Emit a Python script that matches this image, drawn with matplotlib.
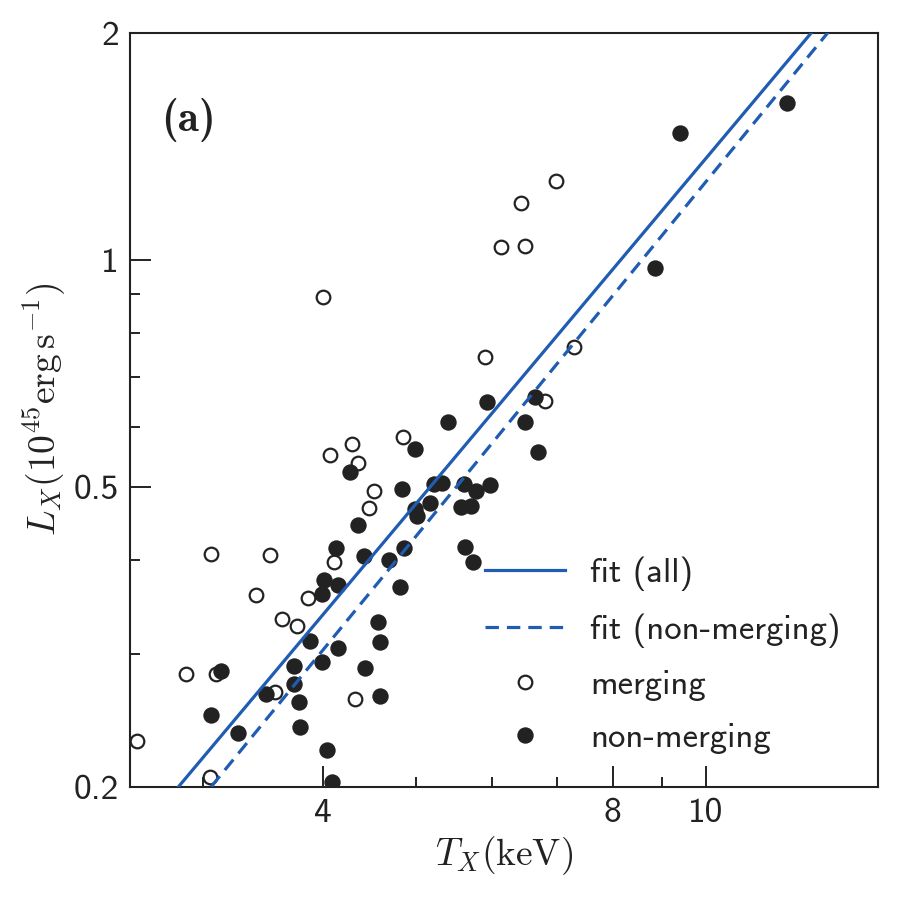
import numpy as np
import matplotlib
matplotlib.use("Agg")
import matplotlib.pyplot as plt

plt.rcParams['font.family'] = ['cmss10', 'DejaVu Sans']
plt.rcParams['mathtext.fontset'] = 'cm'
plt.rcParams['axes.unicode_minus'] = False

# merging clusters (open circles)
T_merg = np.array([2.56, 2.88, 3.06, 3.10, 3.05, 3.41, 3.52, 3.57, 3.63, 3.76,
                   3.86, 4.32, 4.00, 4.07, 4.29, 4.35, 4.52, 4.47, 4.11, 4.85,
                   5.90, 6.13, 6.49, 6.42, 6.98, 7.29, 6.80])
L_merg = np.array([0.230, 0.282, 0.407, 0.282, 0.206, 0.359, 0.406, 0.267, 0.334, 0.327,
                   0.356, 0.262, 0.893, 0.551, 0.570, 0.538, 0.494, 0.469, 0.398, 0.582,
                   0.744, 1.040, 1.044, 1.190, 1.273, 0.767, 0.650])

# non-merging clusters (filled circles)
T_non = np.array([3.13, 3.06, 3.26, 3.49, 3.73, 3.73, 3.78, 3.79, 3.88, 3.99,
                  3.99, 4.01, 4.15, 4.15, 4.04, 4.09, 4.42, 4.56, 4.59, 4.58,
                  4.81, 4.86, 4.69, 4.41, 4.13, 4.35, 4.27, 4.83, 4.99, 4.98,
                  5.01, 5.17, 5.22, 5.32, 5.40, 5.61, 5.77, 5.96, 5.56, 5.70,
                  5.62, 5.73, 5.93, 6.49, 6.65, 6.70, 8.85, 9.40, 12.14])
L_non = np.array([0.285, 0.249, 0.236, 0.266, 0.289, 0.274, 0.259, 0.240, 0.312, 0.293,
                  0.361, 0.376, 0.371, 0.306, 0.224, 0.203, 0.288, 0.331, 0.311, 0.264,
                  0.368, 0.415, 0.400, 0.405, 0.415, 0.445, 0.523, 0.497, 0.562, 0.467,
                  0.458, 0.476, 0.505, 0.506, 0.610, 0.505, 0.494, 0.503, 0.470, 0.472,
                  0.416, 0.398, 0.648, 0.610, 0.658, 0.556, 0.976, 1.474, 1.615])

# power-law fits: L = A * (T / 6 keV)^B
T_pivot = 6.0
A_all, B_all = 0.627, 1.52
A_non, B_non = 0.572, 1.56

x_ticks = [4, 8, 10]
x_ticklabels = ['4', '8', '10']
x_minor = [3, 5, 6, 7, 9]
y_ticks = [0.2, 0.5, 1, 2]
y_ticklabels = ['0.2', '0.5', '1', '2']
y_minor = [0.3, 0.4, 0.6, 0.7, 0.8, 0.9]

blue = '#1f5cb2'
dark = '#222222'

fig = plt.figure(figsize=(9, 9), dpi=100)
ax = fig.add_axes([0.1444, 0.1256, 0.8311, 0.8378])
ax.set_xscale('log')
ax.set_yscale('log')
ax.set_xlim(2.52, 15.1)
ax.set_ylim(0.2, 2)

ax.plot(T_merg, L_merg, 'o', ms=9.8, mfc='white', mec=dark, mew=1.6,
        ls='none', label='merging', zorder=2)
ax.plot(T_non, L_non, 'o', ms=11.8, mfc=dark, mec=dark, mew=0,
        ls='none', label='non-merging', zorder=2)

tt = np.geomspace(2.52, 15.1, 200)
l1, = ax.plot(tt, A_all * (tt / T_pivot) ** B_all, '-', color=blue, lw=2.3,
              label='fit (all)', zorder=3)
l2, = ax.plot(tt, A_non * (tt / T_pivot) ** B_non, '--', color=blue, lw=2.3,
              dashes=(4.2, 2.5), label='fit (non-merging)', zorder=3)

ax.set_xticks(x_ticks, x_ticklabels)
ax.set_xticks(x_minor, [''] * len(x_minor), minor=True)
ax.set_yticks(y_ticks, y_ticklabels)
ax.set_yticks(y_minor, [''] * len(y_minor), minor=True)
ax.tick_params(which='major', direction='in', length=15, width=1.4,
               color=dark, labelsize=25.5, labelcolor=dark, pad=8)
ax.tick_params(which='minor', direction='in', length=7.5, width=1.4, color=dark)
for s in ax.spines.values():
    s.set_linewidth(1.5)
    s.set_color(dark)

ax.set_xlabel(r'$T_X(\mathrm{keV})$', fontsize=27, color=dark, labelpad=4)
ax.set_ylabel(r'$L_X(10^{45}\mathrm{erg\,s^{-1}})$', fontsize=27, color=dark,
              labelpad=4)

ax.text(0.042, 0.885, '(a)', transform=ax.transAxes, fontsize=31,
        family='cmb10', color=dark, va='center', ha='left')

h = ax.get_legend_handles_labels()[0]
leg = ax.legend([l1, l2, h[0], h[1]],
                ['fit (all)', 'fit (non-merging)', 'merging', 'non-merging'],
                loc='upper left', bbox_to_anchor=(0.4746, 0.305),
                frameon=False, fontsize=25, handlelength=2.3,
                handletextpad=0.72, labelspacing=0.63, borderpad=0,
                borderaxespad=0)
for t in leg.get_texts():
    t.set_color(dark)

fig.savefig('out.png', dpi=100)
